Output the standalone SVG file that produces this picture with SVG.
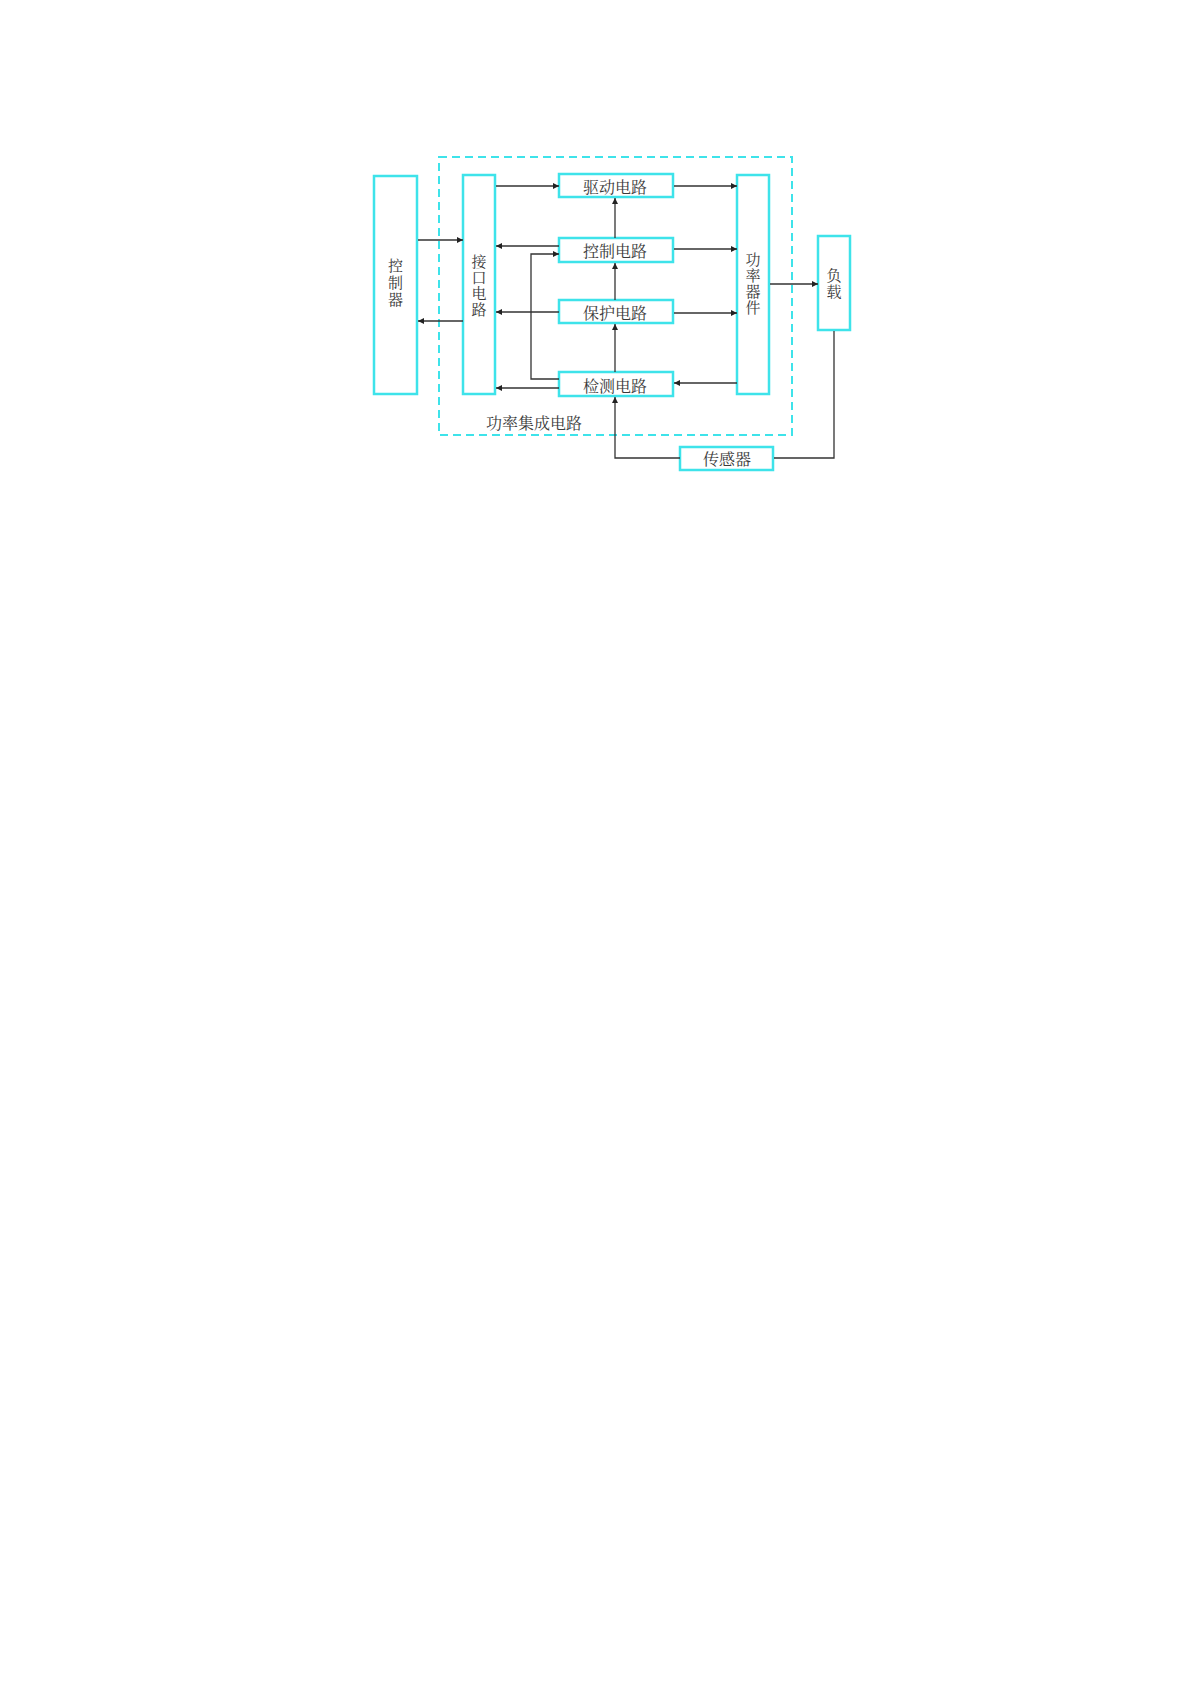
<svg xmlns="http://www.w3.org/2000/svg" width="1191" height="1684" viewBox="0 0 1191 1684">
<style>
.box{fill:#ffffff;stroke:#3ee3ea;stroke-width:2.5}
.dash{fill:none;stroke:#3ee3ea;stroke-width:2;stroke-dasharray:8 5}
.ln{fill:none;stroke:#333333;stroke-width:1.3}
.v{font-family:"Noto Serif CJK SC","Noto Sans CJK SC",sans-serif;font-size:15px;fill:#3a3a3a;text-anchor:middle;writing-mode:vertical-rl;letter-spacing:1px}
.lbl{font-family:"Noto Serif CJK SC","Noto Sans CJK SC",sans-serif;font-size:16px;fill:#3a3a3a;text-anchor:middle;dominant-baseline:central}
</style>
<defs>
<marker id="ar" viewBox="0 0 10 10" refX="10" refY="5" markerWidth="9" markerHeight="6" markerUnits="userSpaceOnUse" orient="auto">
<path d="M0,0 L10,5 L0,10 z" fill="#222222"/>
</marker>
</defs>
<rect width="1191" height="1684" fill="#ffffff"/>
<g id="ic-boundary">
<rect class="dash" x="439" y="157" width="353" height="278"/>
<text class="lbl" x="534" y="422" font-size="17">功率集成电路</text>
</g>
<g id="controller">
<rect class="box" x="374" y="176" width="43" height="218"/>
<text class="v" x="395.5" y="283" style="letter-spacing:2px">控制器</text>
</g>
<g id="interface">
<rect class="box" x="463" y="175" width="32" height="219"/>
<text class="v" x="479" y="286">接口电路</text>
</g>
<g id="drive">
<rect class="box" x="559" y="174" width="114" height="23"/>
<text class="lbl" x="615" y="186">驱动电路</text>
</g>
<g id="control">
<rect class="box" x="559" y="238" width="114" height="24"/>
<text class="lbl" x="615" y="250">控制电路</text>
</g>
<g id="protect">
<rect class="box" x="559" y="300" width="114" height="23"/>
<text class="lbl" x="615" y="312">保护电路</text>
</g>
<g id="detect">
<rect class="box" x="559" y="372" width="114" height="24"/>
<text class="lbl" x="615" y="385">检测电路</text>
</g>
<g id="power">
<rect class="box" x="737" y="175" width="32" height="219"/>
<text class="v" x="753" y="284">功率器件</text>
</g>
<g id="load">
<rect class="box" x="818" y="236" width="32" height="94"/>
<text class="v" x="834" y="284">负载</text>
</g>
<g id="sensor">
<rect class="box" x="680" y="447" width="93" height="23"/>
<text class="lbl" x="727" y="458">传感器</text>
</g>
<g id="connectors">
<line class="ln" x1="418" y1="240" x2="463" y2="240" marker-end="url(#ar)"/>
<line class="ln" x1="463" y1="321" x2="418" y2="321" marker-end="url(#ar)"/>
<line class="ln" x1="496" y1="186" x2="559" y2="186" marker-end="url(#ar)"/>
<line class="ln" x1="559" y1="246" x2="496" y2="246" marker-end="url(#ar)"/>
<line class="ln" x1="559" y1="312" x2="496" y2="312" marker-end="url(#ar)"/>
<line class="ln" x1="559" y1="388" x2="496" y2="388" marker-end="url(#ar)"/>
<polyline class="ln" points="559,379 531,379 531,254 559,254" marker-end="url(#ar)"/>
<line class="ln" x1="615" y1="238" x2="615" y2="198" marker-end="url(#ar)"/>
<line class="ln" x1="615" y1="300" x2="615" y2="263" marker-end="url(#ar)"/>
<line class="ln" x1="615" y1="372" x2="615" y2="324" marker-end="url(#ar)"/>
<line class="ln" x1="674" y1="186" x2="737" y2="186" marker-end="url(#ar)"/>
<line class="ln" x1="674" y1="249" x2="737" y2="249" marker-end="url(#ar)"/>
<line class="ln" x1="674" y1="313" x2="737" y2="313" marker-end="url(#ar)"/>
<line class="ln" x1="737" y1="383" x2="674" y2="383" marker-end="url(#ar)"/>
<line class="ln" x1="770" y1="284" x2="818" y2="284" marker-end="url(#ar)"/>
<polyline class="ln" points="834,331 834,458 774,458"/>
<polyline class="ln" points="680,458 615,458 615,397" marker-end="url(#ar)"/>
</g>
</svg>
